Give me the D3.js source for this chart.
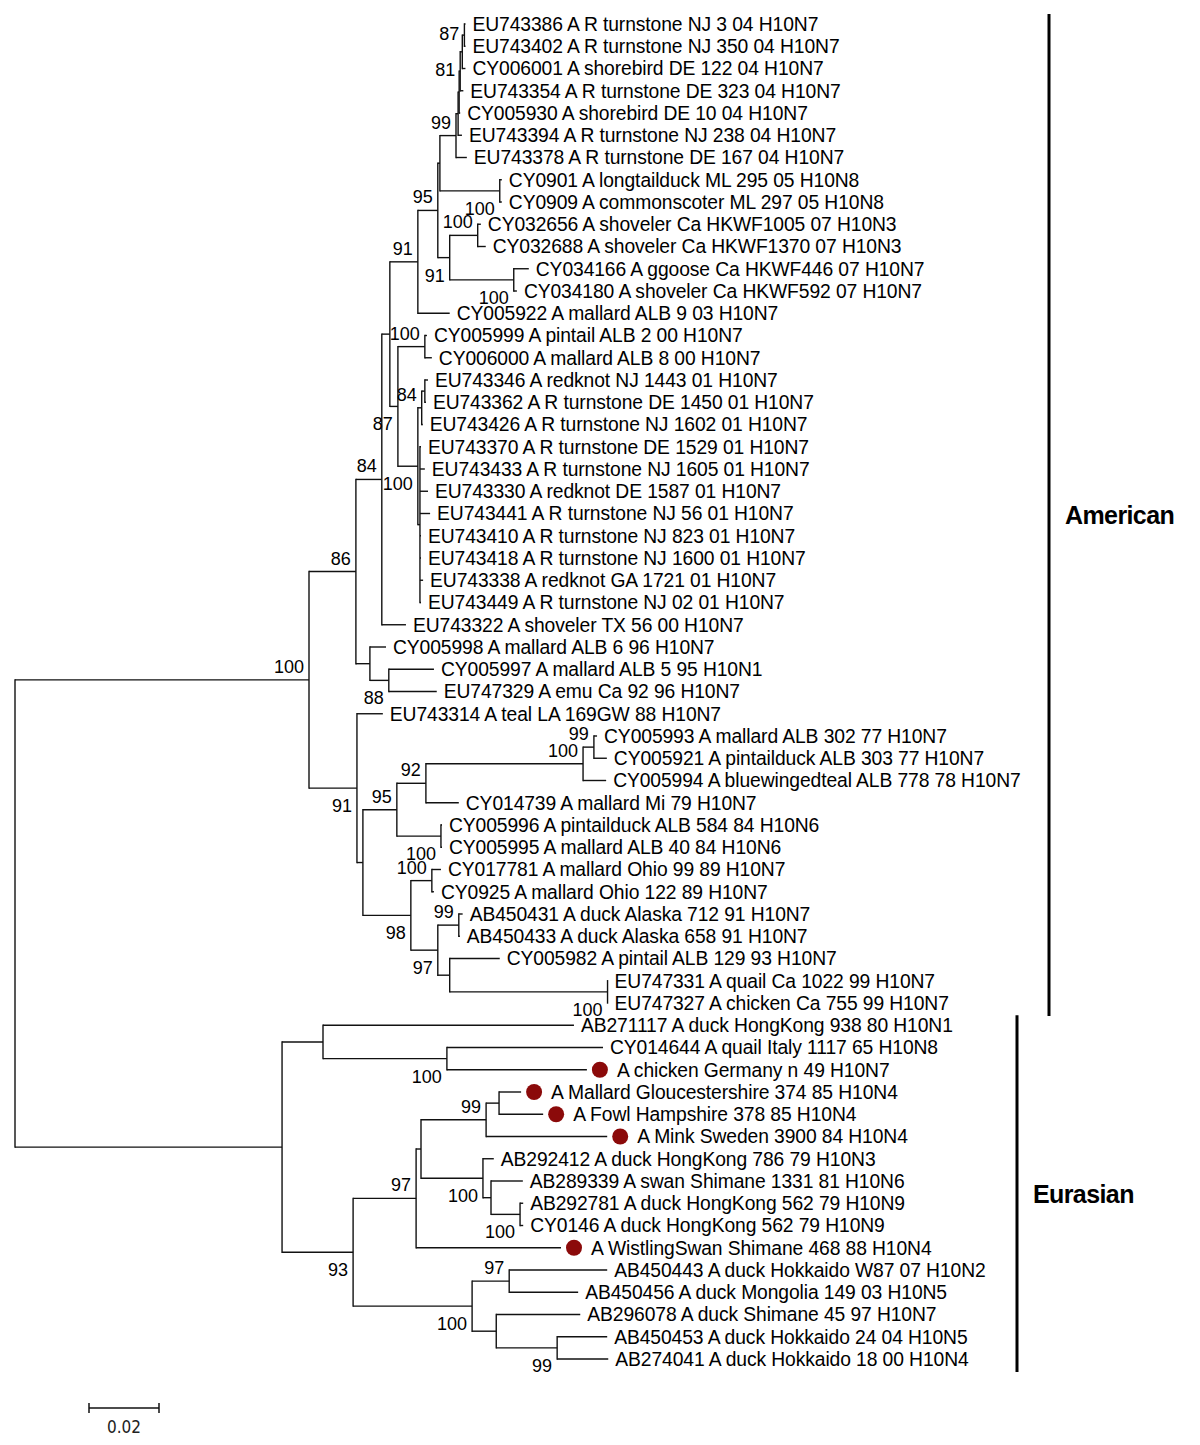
<!DOCTYPE html>
<html><head><meta charset="utf-8">
<script src="https://cdn.jsdelivr.net/npm/d3@7"></script>
<style>body{margin:0;background:#fff}svg{display:block}</style>
</head><body><svg id="chart" width="1200" height="1445"></svg>
<script>
// ---------------- data ----------------
const leafNames = [
 "EU743386 A R turnstone NJ 3 04 H10N7",
 "EU743402 A R turnstone NJ 350 04 H10N7",
 "CY006001 A shorebird DE 122 04 H10N7",
 "EU743354 A R turnstone DE 323 04 H10N7",
 "CY005930 A shorebird DE 10 04 H10N7",
 "EU743394 A R turnstone NJ 238 04 H10N7",
 "EU743378 A R turnstone DE 167 04 H10N7",
 "CY0901 A longtailduck ML 295 05 H10N8",
 "CY0909 A commonscoter ML 297 05 H10N8",
 "CY032656 A shoveler Ca HKWF1005 07 H10N3",
 "CY032688 A shoveler Ca HKWF1370 07 H10N3",
 "CY034166 A ggoose Ca HKWF446 07 H10N7",
 "CY034180 A shoveler Ca HKWF592 07 H10N7",
 "CY005922 A mallard ALB 9 03 H10N7",
 "CY005999 A pintail ALB 2 00 H10N7",
 "CY006000 A mallard ALB 8 00 H10N7",
 "EU743346 A redknot NJ 1443 01 H10N7",
 "EU743362 A R turnstone DE 1450 01 H10N7",
 "EU743426 A R turnstone NJ 1602 01 H10N7",
 "EU743370 A R turnstone DE 1529 01 H10N7",
 "EU743433 A R turnstone NJ 1605 01 H10N7",
 "EU743330 A redknot DE 1587 01 H10N7",
 "EU743441 A R turnstone NJ 56 01 H10N7",
 "EU743410 A R turnstone NJ 823 01 H10N7",
 "EU743418 A R turnstone NJ 1600 01 H10N7",
 "EU743338 A redknot GA 1721 01 H10N7",
 "EU743449 A R turnstone NJ 02 01 H10N7",
 "EU743322 A shoveler TX 56 00 H10N7",
 "CY005998 A mallard ALB 6 96 H10N7",
 "CY005997 A mallard ALB 5 95 H10N1",
 "EU747329 A emu Ca 92 96 H10N7",
 "EU743314 A teal LA 169GW 88 H10N7",
 "CY005993 A mallard ALB 302 77 H10N7",
 "CY005921 A pintailduck ALB 303 77 H10N7",
 "CY005994 A bluewingedteal ALB 778 78 H10N7",
 "CY014739 A mallard Mi 79 H10N7",
 "CY005996 A pintailduck ALB 584 84 H10N6",
 "CY005995 A mallard ALB 40 84 H10N6",
 "CY017781 A mallard Ohio 99 89 H10N7",
 "CY0925 A mallard Ohio 122 89 H10N7",
 "AB450431 A duck Alaska 712 91 H10N7",
 "AB450433 A duck Alaska 658 91 H10N7",
 "CY005982 A pintail ALB 129 93 H10N7",
 "EU747331 A quail Ca 1022 99 H10N7",
 "EU747327 A chicken Ca 755 99 H10N7",
 "AB271117 A duck HongKong 938 80 H10N1",
 "CY014644 A quail Italy 1117 65 H10N8",
 "A chicken Germany n 49 H10N7",
 "A Mallard Gloucestershire 374 85 H10N4",
 "A Fowl Hampshire 378 85 H10N4",
 "A Mink Sweden 3900 84 H10N4",
 "AB292412 A duck HongKong 786 79 H10N3",
 "AB289339 A swan Shimane 1331 81 H10N6",
 "AB292781 A duck HongKong 562 79 H10N9",
 "CY0146 A duck HongKong 562 79 H10N9",
 "A WistlingSwan Shimane 468 88 H10N4",
 "AB450443 A duck Hokkaido W87 07 H10N2",
 "AB450456 A duck Mongolia 149 03 H10N5",
 "AB296078 A duck Shimane 45 97 H10N7",
 "AB450453 A duck Hokkaido 24 04 H10N5",
 "AB274041 A duck Hokkaido 18 00 H10N4"
];

// leaves highlighted with a dot
const markedLeaves = [47, 48, 49, 50, 55];

// tree topology, branch lengths (substitutions/site) and bootstrap values
const treeNewick = `(
(
 (
  (
   (
    (
     (
      (
       ((((((L0:0.0003,L1:0.0003)87:0.0006,L2:0.0009):0.0006,L3:0.0009)81:0.0003,L4:0.0003):0.0003,L5:0.0011):0.0006,L6:0.0031)99:0.0046,
       (L7:0.0006,L8:0.0006)100:0.0171
      ):0.0006,
      ((L9:0.0009,L10:0.0023)100:0.0080,(L11:0.0043,L12:0.0009)100:0.0183)91:0.0034
     )95:0.0057,
     L13:0.0091
    )91:0.0080,
    ((L14:0.0006,L15:0.0020)100:0.0077,
     (((L16:0.0009,L17:0.0003):0.0009,L18:0.0003)84:0.0011,
      (L19:0.0003,L20:0.0014,L21:0.0023,L22:0.0029,L23:0.0003,L24:0.0003,L25:0.0009,L26:0.0003):0.0006)100:0.0057
    )87:0.0023
   ):0.0023,
   L27:0.0069
  )84:0.0074,
  (L28:0.0046,(L29:0.0129,L30:0.0137)88:0.0054):0.0040
 )86:0.0134,
 (L31:0.0074,
  (
   ((((L32:0.0009,L33:0.0037)99:0.0031,L34:0.0066)100:0.0449,L35:0.0094)92:0.0083,(L36:0.0003,L37:0.0003)100:0.0126)95:0.0097,
   ((L38:0.0026,L39:0.0006)100:0.0060,((L40:0.0011,L41:0.0003)99:0.0060,(L42:0.0143,(L43:0,L44:0)100:0.0451):0.0034)97:0.0077)98:0.0137
  ):0.0017
 )91:0.0137
)100:0.0840,
(
 (L45:0.0717,(L46:0.0446,L47:0.0400)100:0.0354):0.0117,
 (
  ((((L48:0.0063,L49:0.0126):0.0037,L50:0.0346)99:0.0186,(L51:0.0031,(L52:0.0091,(L53:0.0009,L54:0.0009)100:0.0083):0.0023)100:0.0177):0.0014,
   L55:0.0414)97:0.0180,
  ((L56:0.0280,L57:0.0197)97:0.0106,(L58:0.0240,(L59:0.0143,L60:0.0146)99:0.0174):0.0069)100:0.0340
 )93:0.0203
):0.0763
);`;

// side of the branch each bootstrap value sits on, in preorder of labelled nodes
const bootstrapSides = ["a","a","a","a","a","a","m","m","b","b","a","b","b","a","b","a",
  "b","b","a","a","a","a","b","b","a","b","a","b",
  "b","b","a","a","b","b","b","a","b"];

const cladeNames = ["American", "Eurasian"];
const cladeLeafRanges = [[0, 44], [45, 60]];
const scaleBarValue = 0.02;
const scaleBarLabel = "0.02";

// ---------------- parse ----------------
function parseNewick(str) {
  const s = str.replace(/\s+/g, "");
  let i = 0;
  function node() {
    const n = {};
    if (s[i] === "(") {
      n.children = [];
      i++;
      n.children.push(node());
      while (s[i] === ",") { i++; n.children.push(node()); }
      i++;
    }
    let name = "";
    while (i < s.length && !",():;".includes(s[i])) name += s[i++];
    n.name = name;
    n.length = 0;
    if (s[i] === ":") {
      i++;
      let num = "";
      while (i < s.length && !",();".includes(s[i])) num += s[i++];
      n.length = +num;
    }
    return n;
  }
  return node();
}

const root = d3.hierarchy(parseNewick(treeNewick));
root.eachBefore(d => { d.dist = d.parent ? d.parent.dist + d.data.length : 0; });

const x = d3.scaleLinear().domain([0, 0.02]).range([15, 85]);
const y = d3.scalePoint().domain(d3.range(leafNames.length)).range([24, 1359]);

root.eachAfter(d => {
  d.px = x(d.dist);
  if (d.children) d.py = (d.children[0].py + d.children[d.children.length - 1].py) / 2;
  else { d.leafIndex = +d.data.name.slice(1); d.py = y(d.leafIndex); }
});

// ---------------- draw ----------------
const svg = d3.select("#chart");
const g = svg.append("g");
const stroke = "#111";

// horizontal branches
g.append("g").selectAll("line")
  .data(root.descendants().filter(d => d.parent))
  .join("line")
  .attr("x1", d => d.parent.px).attr("x2", d => d.px)
  .attr("y1", d => d.py).attr("y2", d => d.py)
  .attr("stroke", stroke).attr("stroke-width", 1.4);

// vertical connectors
g.append("g").selectAll("line")
  .data(root.descendants().filter(d => d.children))
  .join("line")
  .attr("x1", d => d.px).attr("x2", d => d.px)
  .attr("y1", d => d.children[0].py - 0.7)
  .attr("y2", d => d.children[d.children.length - 1].py + 0.7)
  .attr("stroke", stroke).attr("stroke-width", 1.4);

// bootstrap labels
const labelled = [];
root.eachBefore(d => { if (d.children && d.data.name) labelled.push(d); });
const sideDy = { a: -7, b: 24, m: 5 };
g.append("g").selectAll("text")
  .data(labelled)
  .join("text")
  .attr("x", d => d.px - 5)
  .attr("y", (d, i) => d.py + sideDy[bootstrapSides[i] || "a"])
  .attr("text-anchor", "end")
  .attr("font-family", "Liberation Sans, Arial, sans-serif")
  .attr("font-size", 18)
  .attr("fill", "#000")
  .text(d => d.data.name);

// leaves
const leaves = root.leaves();
const marked = new Set(markedLeaves);
g.append("g").selectAll("circle")
  .data(leaves.filter(d => marked.has(d.leafIndex)))
  .join("circle")
  .attr("cx", d => d.px + 13).attr("cy", d => d.py)
  .attr("r", 8).attr("fill", "#8b0a0a");

g.append("g").selectAll("text")
  .data(leaves)
  .join("text")
  .attr("x", d => d.px + (marked.has(d.leafIndex) ? 30 : 7))
  .attr("y", d => d.py)
  .attr("dy", "0.36em")
  .attr("font-family", "Liberation Sans, Arial, sans-serif")
  .attr("font-size", 19.3)
  .attr("letter-spacing", "-0.1px")
  .attr("fill", "#000")
  .text(d => leafNames[d.leafIndex]);

// clade bars
const cladeBarX = [1049, 1017];
cladeNames.forEach((name, i) => {
  const [a, b] = cladeLeafRanges[i];
  const y0 = y(a) - 10, y1 = y(b) + 13;
  g.append("line").attr("x1", cladeBarX[i]).attr("x2", cladeBarX[i])
    .attr("y1", y0).attr("y2", y1).attr("stroke", "#000").attr("stroke-width", 3);
  g.append("text").attr("x", cladeBarX[i] + 16).attr("y", (y0 + y1) / 2)
    .attr("dy", "0.36em")
    .attr("font-family", "Liberation Sans, Arial, sans-serif")
    .attr("font-weight", "bold").attr("font-size", 25)
    .attr("letter-spacing", "-0.6px")
    .text(name);
});

// scale bar
const sbX0 = 89, sbY = 1408;
const sbLen = x(scaleBarValue) - x(0);
const sb = g.append("g");
sb.append("line").attr("x1", sbX0).attr("x2", sbX0 + sbLen).attr("y1", sbY).attr("y2", sbY)
  .attr("stroke", stroke).attr("stroke-width", 1.5);
[sbX0, sbX0 + sbLen].forEach(px => sb.append("line").attr("x1", px).attr("x2", px)
  .attr("y1", sbY - 5).attr("y2", sbY + 5).attr("stroke", stroke).attr("stroke-width", 1.5));
sb.append("text").attr("x", sbX0 + sbLen / 2).attr("y", sbY + 25)
  .attr("text-anchor", "middle")
  .attr("font-family", "DejaVu Sans Condensed, DejaVu Sans, sans-serif")
  .attr("font-size", 17).attr("fill", "#222")
  .text(scaleBarLabel);
</script>
</body></html>
